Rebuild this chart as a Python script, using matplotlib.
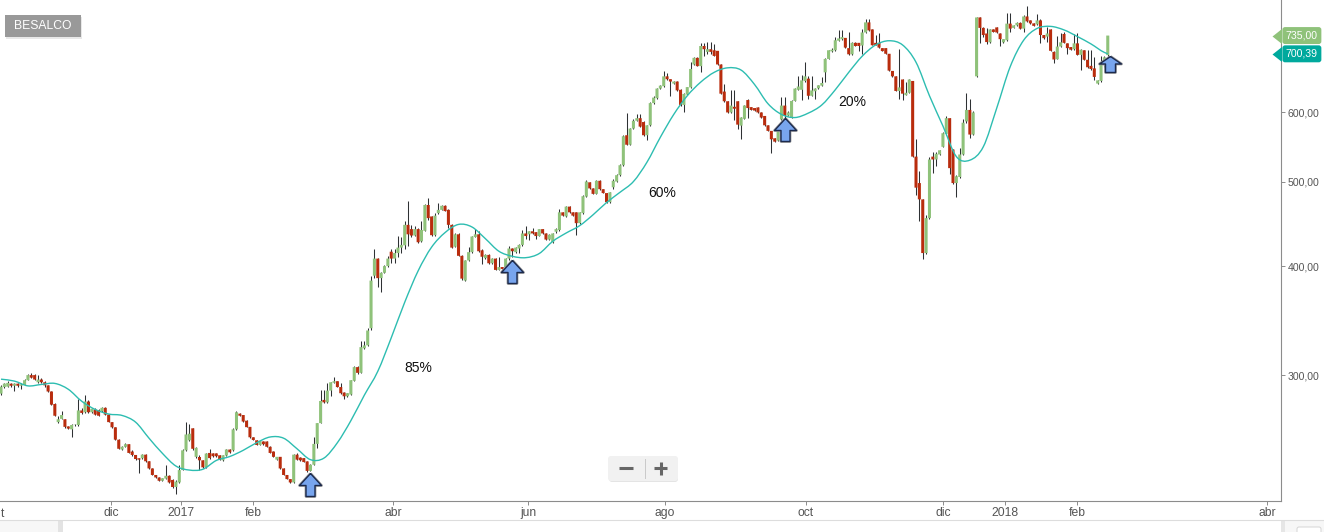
import matplotlib
matplotlib.use("Agg")
import matplotlib.pyplot as plt
from matplotlib.patches import FancyBboxPatch, PathPatch, Rectangle
from matplotlib.path import Path
from matplotlib.ticker import FixedLocator, NullLocator
import numpy as np

plt.rcParams["font.family"] = ["Liberation Sans", "DejaVu Sans"]

# Daily candles
opens = [
    285.7,290.7,291,293.3,291.7,293.3,291.7,292.3,296,300,
    300,294.4,296.5,294.4,292,287.3,278,265,267.3,267,
    262,260,263,263,273.3,272,279.8,272,274,273.5,
    272.7,275.2,270.3,265,261.4,253,246.5,248.3,250,245.2,
    243,240.9,240.9,243.2,239,234.5,230.5,229,227,228.3,
    230,227.5,223.3,226,233.5,246,252.6,260.7,241.8,241.7,
    239.6,235.2,244.3,244,244,242.8,239.6,242.6,246.5,246,
    260,271,270,266,261.7,254.6,252.6,249.5,251.8,251.8,
    248.3,245.2,240,241.8,234.5,230.5,228,226,243.2,241.3,
    241,238.9,233,236.8,250.2,264.3,281,279.2,288,294,
    295.2,290.7,286.5,283.7,285,295.5,306.4,301.8,322,324.5,
    339.5,390,408,387.5,393,400,415.5,408,414,420,
    422.5,446,441,433.6,441,427,439,470,456,434,
    460,464,469,464,446,421,435,411,385,406,
    415,432,435,417,408.5,412,403,408,396,399,
    399,408,419,415,419,423,436,435,438.5,437.5,
    433,441,436,429,426,438,440,461,456,468,
    461,461,448,460,480.5,499,491,484,501,490,
    485,473.5,492.5,500,508.5,522,565,551,575,587,
    591,585,565,580,615,623,639,643,660,655,
    647.5,651,637,612,629,641,681,693,678,715,
    704,709,707,706,681,634,618,600,609,618,
    579.5,590,620,608.5,607,608,600,594.5,580,571.5,
    560.5,557,589,611,595,592,618.5,637,637,652,
    656,627,634.5,639.5,644,667,691,705,707,725,
    728,730.5,711,699.5,721,721,716,741,761,747,
    721,721,711,711,700.5,669.5,660,635,654.5,628,
    632,652,534,498,477,414,454,534,530,537,
    548,567,591,544,498,506,537,586,604,566,
    660,771,750,739,722,747,751,739,722,726,
    758.5,750,755,760,748.5,773,765,759,757,765,
    736,733,747,704,690.5,714,738,720,713,709,
    720,698.5,707,689.5,678.5,674,647.5,652,680,698,
]
closes = [
    291,293.3,293.9,291.7,293.3,291.7,292.8,296,300,298,
    296.5,296.5,294.4,292,287.3,277.5,269.5,267,270,261.7,
    260.5,263,263.2,273.3,271.5,279.8,272,274.5,270.3,269.5,
    275.2,270.3,265,261.4,253,247,248.3,250,244.3,243,
    240.4,240,243.2,239,234.5,230.5,229,227,228.5,230,
    226,223.3,226.5,233.5,246,256.5,257,247,247.6,239.6,
    235.2,243.9,241,242.2,242.2,240,242.8,246.5,244.7,260,
    272,269.5,265.4,261.5,254.6,252.8,249.5,252,250,248.3,
    244.3,241.8,241.8,234.5,230.5,228,226,243.2,240,239.6,
    238.5,233,236.8,250.2,264.3,280.2,279.2,288,294.4,295.2,
    290.7,286,283.7,286,296,306.4,301.8,323,324.5,337.5,
    385,408,387.5,393,400,408,408,414,420,423,
    446,435,433.6,441,426,440,470,454,434,457,
    464,469,462.5,446,420,435,411,387,406,415,
    432.5,435,416,410,412,403,408,396,399,397,
    408,419,416,420,423,436,433,438.5,436,433,
    441,436,429,434.5,436,441,461,457,468,461,
    457,448,461,481,500,491,484,501,490,485,
    473.5,486,501,508.5,522,563.5,551,575,587,591,
    578,565,580,615,624,639,644,660,655,651,
    651,636,612,630,641.5,673,693,678,715,709,
    709,704,696.5,681,630.5,618,600,611,606,581,
    592,611,607,604,603,600,592,580,571.5,559,
    555.5,573,611,595,600,618.5,639,642.5,653,660,
    627,636,639,644.5,648.5,691,707,708,726,729.5,
    732,712,699.5,721,715,715,741,761,745,716.5,
    716.5,712,705.5,700.5,670,660,635,641,630.5,632,
    654.5,534,492,477,414,454,530,530,538,543,
    568,591,518,498,507,537,584,604,566,600,
    771,750,736,722.5,747,742,741,728,728,758.5,
    748.5,755,760,748.5,773,763,759,754,765,736,
    730,739,706,690,714,722,721,711,708,720,
    698.5,708,689.5,676,673,659,653,680,694,735,
]
highs = [
    292,294,295,294,294,294,293.5,297,301,302,
    301,300,298,295,292.5,288,278.5,269.5,272.7,267.5,
    262.5,263.5,264,281.5,275,285,281,275,275,274,
    275.5,275.5,270.6,265.3,261.6,253.2,248.5,251,250.2,246,
    243.2,241,243.5,243.4,239.2,234.7,230.7,229.2,228.7,236.5,
    230.2,228,227.5,236.5,247,265,264,261,248,243,
    239.8,244.5,247,244.2,244.2,243,243,246.7,246.7,261,
    272.7,271.3,270.3,266.2,261.9,254.8,252.8,252.2,252,252,
    248.5,245.4,242,242,234.7,230.7,228.2,243.4,244,241.5,
    241.2,239.1,237,255,264.5,288.5,288.5,294,294.7,298.7,
    295.4,293.5,287,286.5,296.5,307,307,328,328,339.5,
    389.5,419,408.5,394,401,411,419,419,433,432,
    450,475,446,445,442,451,471,479,457,460.5,
    472,469.5,469.5,464.5,446.5,436,436,411.5,407,421,
    433,441,439,418,412.5,412.5,408.5,408.5,410,399.5,
    409,422,419.5,421,424,440,445,439,442,438,
    441.5,441.5,436.5,435,437,442.5,465,461.5,469,468.5,
    461.5,461.5,461.5,483,502,499.5,491.5,502,501.5,490.5,
    485.5,486.5,503,510,523.5,565,599,576,589,597,
    598,586,581,616,626,640,645,670,666,655.5,
    652,651.5,637.5,631,642.5,685,694,694,720,720,
    722,722,718,706.5,681.5,647,619,637,637,619,
    593,612,621,609,607.5,608.5,600.5,595,580.5,572,
    561,574,625,625,602,620,640,661,662,685,
    661,661,640,645,658,692,708,712,732,745,
    745,731,741,722,722,721.5,748,767,767,748,
    736,739,711.5,711.5,701,670,660.5,710,655,650,
    655,652.5,559,514,477.5,458,534,540,540,544,
    570,594,592,545,509,546,589,631,621,602,
    771.5,771.5,751,750,748,748,752,740,729,780,
    780,756,761,761,775,795,766,760,777,768,
    737,752,748,705,734,740,741,721,714,738,
    739,709,708,708,708,695,654,697,697,735,
]
lows = [
    285,290,290.5,291,288,291,289,292,296,297.5,
    296,294,294,290.7,287,277,269,264.5,267,261,
    260,255,262.5,262.5,271,271.5,271.5,271.5,270,269,
    272.5,270,264.8,261,252.8,246.8,246.3,248,244,242.5,
    240,231.5,240.7,238.8,234.3,230.3,228.8,226.8,226.8,228,
    225.8,223,219,225.8,233.3,245.8,252,246,241,233.5,
    235,235,240.5,242,242,239.8,239.4,242.4,244.5,245.8,
    259.8,269.3,265.2,261.3,254.4,252.6,249.3,249.3,249.8,248,
    244.1,241.6,239.8,234.3,230.3,227.8,225.6,225.8,239.8,239.4,
    238.3,232.6,232.8,236.6,247.8,264.1,279,278.7,284,293.8,
    290.5,285.5,281.5,283,284.8,295.3,301,301.6,321.5,324,
    337.5,388,379,373.5,392.5,399.5,403,403,410,414,
    419,422,432,433,425,426.5,438.5,452,433,433.5,
    459,463.5,462,442,419.5,420.5,410.5,386,384.5,405.5,
    414,431.5,415,402,408,402.5,402.5,395.5,395.5,396.5,
    398.5,406,410,414,414,422,430,428,435.5,430,
    432.5,435.5,428.5,428.5,425,437,439,456,455,460.5,
    456.5,434,447.5,459.5,480,490.5,483.5,483.5,489.5,484.5,
    473,473,490,499,508,521,550,550.5,574,586,
    577,564,558,579,614,622,638.5,642,654,626,
    647,635.5,611,601,628,640,680.5,677.5,667,697,
    701,701,696,680.5,630,617,599,599.5,588,575,
    560,589,592,603.5,602.5,599.5,591.5,579,571,539,
    555,556,588,588,594,591,618,636.5,620,651,
    621,626,622,639,643.5,650,690,704,706,724,
    727,711.5,697.5,697.5,714.5,706,699.5,740,744,716,
    716,711.5,705,700,669.5,659.5,634.5,621,620,627.5,
    631.5,533,482,450,408,413.5,453,511,521,536,
    547,566,510,497,480.5,505,536,583,561,565,
    658,720,733,719,721,741,740.5,715,721,725,
    741,749.5,754,748,742,762,758,753,756,720,
    729,723,705,683,690,713,720,701,707,708,
    698,671,689,675,672,653,646,651,677,695,
]

# Moving average, read every fourth session
ma_index = list(range(0, 329, 4)) + [329]
ma_values = [
    296.8,295.3,291.6,292.7,293.5,289,280,274,270.7,269.7,
    265,254,244,236,233.5,234,239.5,242,246,251,
    254.8,254,247,240,241,251,266,284.5,303,331,
    363.5,395,420.5,437,446.5,443.5,430,416,410.5,409,
    413.5,427,436.5,445,458,473,486,500,526,562,
    597,627,650,667,675,671,646,614,597,592,
    599,612,637,667,696,717,725,717,685,627,
    579,534,529,548,607,677,726,749,753,746,
    733,719,703,700.39,
]

# Axis ticks and annotations
month_ticks = [32.7, 53.5, 74.9, 116.5, 156.7, 197.4, 239.3, 280, 298.5, 319.9, 376.3]
month_labels = ["dic", "2017", "feb", "abr", "jun", "ago", "oct", "dic", "2018", "feb", "abr"]
price_ticks = [300, 400, 500, 600]
price_labels = ["300,00", "400,00", "500,00", "600,00"]
tall_arrow_index = [92, 152, 233]
tall_arrow_price = [232, 407, 592]
short_arrow_index = [329.7]
short_arrow_price = [696]
gain_index = [124, 196.5, 253]
gain_price = [306, 485, 617]
gain_labels = ["85%", "60%", "20%"]
last_price = 735.0
last_ma = 700.39

GREEN = "#8fc27a"
RED = "#b92c0d"
WICK = "#2e3133"
TEAL = "#2dbdb1"
TAG_TEAL = "#00a99d"
GREY = "#555555"
AXIS = "#8c8c8c"

W, H = 1324, 532
fig = plt.figure(figsize=(W / 100, H / 100), dpi=100)
ax = fig.add_axes([0, (H - 501) / H, 1281 / W, 501 / H])
ax.set_yscale("log")

index = np.arange(len(opens))
opens = np.array(opens)
closes = np.array(closes)
colors = [GREEN if c >= o else RED for o, c in zip(opens, closes)]

# Candles
ax.vlines(index, lows, highs, color=WICK, linewidth=0.75, zorder=2)
ax.bar(index, np.abs(closes - opens), bottom=np.minimum(opens, closes),
       width=0.9, color=colors, linewidth=0, zorder=3, snap=False)

# Moving average, a smooth path through the values that were read
mx = np.array(ma_index, dtype=float)
my = np.log(ma_values)
dx = np.gradient(mx)
dy = np.gradient(my, mx)
verts = [(mx[0], ma_values[0])]
codes = [Path.MOVETO]
for i in range(len(mx) - 1):
    h = mx[i + 1] - mx[i]
    verts.append((mx[i] + h / 3, np.exp(my[i] + dy[i] * h / 3)))
    verts.append((mx[i + 1] - h / 3, np.exp(my[i + 1] - dy[i + 1] * h / 3)))
    verts.append((mx[i + 1], ma_values[i + 1]))
    codes += [Path.CURVE4] * 3
ax.add_patch(PathPatch(Path(verts, codes), facecolor="none", edgecolor=TEAL, linewidth=1.0, zorder=4))

# Buy arrows, the tip of the marker sits on the point
tall = Path([(0, 0), (11, -12), (4.5, -12), (4.5, -23), (-4.5, -23), (-4.5, -12), (-11, -12), (0, 0)])
short = Path([(0, 0), (11, -7.5), (5, -7.5), (5, -16), (-5, -16), (-5, -7.5), (-11, -7.5), (0, 0)])
for arrow, size, xs, ys in [(tall, 33.1, tall_arrow_index, tall_arrow_price),
                            (short, 23, short_arrow_index, short_arrow_price)]:
    ax.plot(xs, ys, linestyle="none", marker=arrow, markersize=size, markerfacecolor="none",
            markeredgecolor="#9a9a9a", markeredgewidth=2.0, clip_on=False, zorder=5)
    ax.plot(xs, ys, linestyle="none", marker=arrow, markersize=size, markerfacecolor="#78a5ee",
            markeredgecolor="#1c2a4d", markeredgewidth=1.0, clip_on=False, zorder=6)

for xi, yi, label in zip(gain_index, gain_price, gain_labels):
    ax.text(xi, yi, label, fontsize=10, color="#111111", ha="center", va="center", zorder=6)

# Axes
ax.set_xlim(-0.297, 380.5)
ax.set_ylim(215.2, 807.3)
ax.spines["top"].set_visible(False)
ax.spines["left"].set_visible(False)
ax.spines["right"].set_color(AXIS)
ax.spines["bottom"].set_color(AXIS)
ax.yaxis.tick_right()
ax.yaxis.set_major_locator(FixedLocator(price_ticks))
ax.yaxis.set_minor_locator(NullLocator())
ax.set_yticklabels(price_labels)
ax.set_xticks(month_ticks)
ax.set_xticklabels(month_labels)
ax.tick_params(axis="x", length=3, width=0.7, color=AXIS, labelcolor=GREY, labelsize=8.7, pad=1)
ax.tick_params(axis="y", length=3, width=0.7, color=AXIS, labelcolor=GREY, labelsize=7.6, pad=1.5)

# Only the end of the first month label shows at the left edge
ax.annotate("t", xy=(0, 0), xycoords="axes fraction", xytext=(0.4, -5.2),
            textcoords="offset points", ha="left", va="top", fontsize=8.7, color=GREY,
            annotation_clip=False)

# Price tags on the right axis
tag_marker = Path([(-8, 0), (1.5, 7.5), (1.5, -7.5), (-8, 0)])
for price, label, color in [(last_price, "735,00", GREEN), (last_ma, "700,39", TAG_TEAL)]:
    ax.plot([0.9995], [price], transform=ax.get_yaxis_transform(), linestyle="none", marker=tag_marker,
            markersize=11.5, markerfacecolor=color, markeredgewidth=0, clip_on=False, zorder=7)
    ax.text(1.0163, price, label, transform=ax.get_yaxis_transform(), fontsize=7.6, color="white",
            ha="center", va="center", clip_on=False, zorder=8,
            bbox=dict(boxstyle="round,pad=0.33,rounding_size=0.25", facecolor=color, edgecolor="none"))

# Page furniture around the chart, in pixels
over = fig.add_axes([0, 0, 1, 1])
over.set_xlim(0, W)
over.set_ylim(H, 0)
over.axis("off")
over.patch.set_alpha(0)

# BESALCO label
over.add_patch(Rectangle((6, 17), 76, 22, facecolor="#e8e8e8", edgecolor="none"))
over.add_patch(Rectangle((5, 15), 76, 22, facecolor="#999999", edgecolor="none"))
over.text(43, 26.3, "BESALCO", color="white", fontsize=8.7, ha="center", va="center")

# Zoom buttons
over.add_patch(FancyBboxPatch((609, 458), 69, 24, boxstyle="round,pad=0,rounding_size=3",
                              facecolor="#e4e4e4", edgecolor="none"))
over.add_patch(FancyBboxPatch((608, 456), 70, 25, boxstyle="round,pad=0,rounding_size=3",
                              facecolor="#f1f1f1", edgecolor="none"))
over.plot([645, 645], [459, 478], color="#c9c9c9", linewidth=0.7)
over.plot([619, 633], [468, 468], color="#666666", linewidth=2.2, solid_capstyle="butt")
over.plot([654, 667], [468, 468], color="#666666", linewidth=2.2, solid_capstyle="butt")
over.plot([660.5, 660.5], [461.5, 475], color="#666666", linewidth=2.2, solid_capstyle="butt")

# Scroll band along the bottom
over.plot([0, W], [520, 520], color="#dddddd", linewidth=0.8)
over.add_patch(Rectangle((0, 520.5), 58, 12, facecolor="#f7f7f7", edgecolor="none"))
over.add_patch(Rectangle((58, 520.5), 5, 12, facecolor="#e3e3e3", edgecolor="none"))
over.add_patch(Rectangle((1281, 520.5), 4, 12, facecolor="#e6e6e6", edgecolor="none"))
over.add_patch(Rectangle((1285, 520.5), 39, 12, facecolor="#f7f7f7", edgecolor="none"))
over.add_patch(FancyBboxPatch((1297, 527), 24, 8, boxstyle="round,pad=0,rounding_size=2",
                              facecolor="white", edgecolor="#d5d5d5", linewidth=0.7))

fig.savefig("out.png", dpi=100)
